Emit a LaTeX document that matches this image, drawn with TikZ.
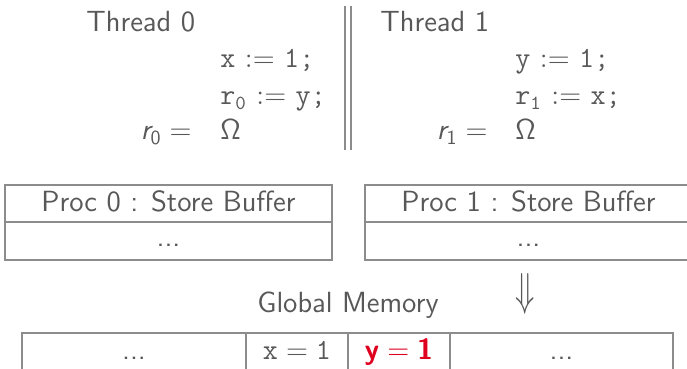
\documentclass[tikz,border=0pt]{standalone}
\usetikzlibrary{positioning}
\definecolor{TextGray}{RGB}{88,88,88}
\definecolor{RuleGray}{RGB}{140,140,140}
\definecolor{HotRed}{RGB}{222,0,30}
\tikzset{
  txt/.style={font=\fontsize{14.6}{17}\selectfont\sffamily,text=TextGray,inner sep=0pt},
  code/.style={txt,anchor=base west},
  lhs/.style={txt,anchor=base east},
  cell/.style={txt,draw=RuleGray,line width=.6pt,outer sep=0pt},
  headcell/.style={cell,text height=13.5pt,text depth=5pt},
  bodycell/.style={cell,text height=12.5pt,text depth=6.5pt},
  memcell/.style={cell,text height=13.5pt,text depth=10pt},
  sepline/.style={draw=RuleGray,line width=.7pt}
}

\begin{document}
\begin{tikzpicture}[x=0.5pt,y=-0.5pt]
  \useasboundingbox (0,0) rectangle (687,369);
  % threads
  \node[code] (t0) at (86,32) {Thread 0};
  \node[code] (t0a) at (220,68) {\texttt{x} $:=$ \texttt{1;}};
  \node[code] (t0b) at (220,105) {\texttt{r}$_{\mathtt{0}}$ $:=$ \texttt{y;}};
  \node[code] (t0c) at (220,140) {$\mathsf{\Omega}$};
  \node[lhs] (r0) at (192,140) {$\textit{r}_{\mathsf{0}} =$};
  \node[code] (t1) at (380,32) {Thread 1};
  \node[code] (t1a) at (515,68) {\texttt{y} $:=$ \texttt{1;}};
  \node[code] (t1b) at (515,105) {\texttt{r}$_{\mathtt{1}}$ $:=$ \texttt{x;}};
  \node[code] (t1c) at (515,140) {$\mathsf{\Omega}$};
  \node[lhs] (r1) at (488,140) {$\textit{r}_{\mathsf{1}} =$};
  \coordinate (s0) at (345,6); \coordinate (s1) at (345,150);
  \coordinate (s2) at (351,6); \coordinate (s3) at (351,150);
  \draw[sepline] (s0) -- (s1);
  \draw[sepline] (s2) -- (s3);
  % store buffers
  \node[headcell,minimum width=163.5pt,anchor=north west] (buf0) at (5,185) {Proc 0 : Store Buffer};
  \node[bodycell,minimum width=163.5pt,below=0pt of buf0] (buf0d) {...};
  \node[headcell,minimum width=163.5pt,anchor=north west] (buf1) at (365,185) {Proc 1 : Store Buffer};
  \node[bodycell,minimum width=163.5pt,below=0pt of buf1] (buf1d) {...};
  \node[txt] (down) at (525,294) {\scalebox{1.1}[1.6]{$\Downarrow$}};
  % memory
  \node[txt,anchor=base] (gm) at (348,313) {Global Memory};
  \node[memcell,minimum width=112pt,anchor=north west] (m0) at (22,333) {...};
  \node[memcell,minimum width=51pt,right=0pt of m0] (m1) {$\texttt{x} = \texttt{1}$};
  \node[memcell,minimum width=51pt,right=0pt of m1] (m2) {\textcolor{HotRed}{$\textbf{y} = \textbf{1}$}};
  \node[memcell,minimum width=111.5pt,right=0pt of m2] (m3) {...};
\end{tikzpicture}
\end{document}
